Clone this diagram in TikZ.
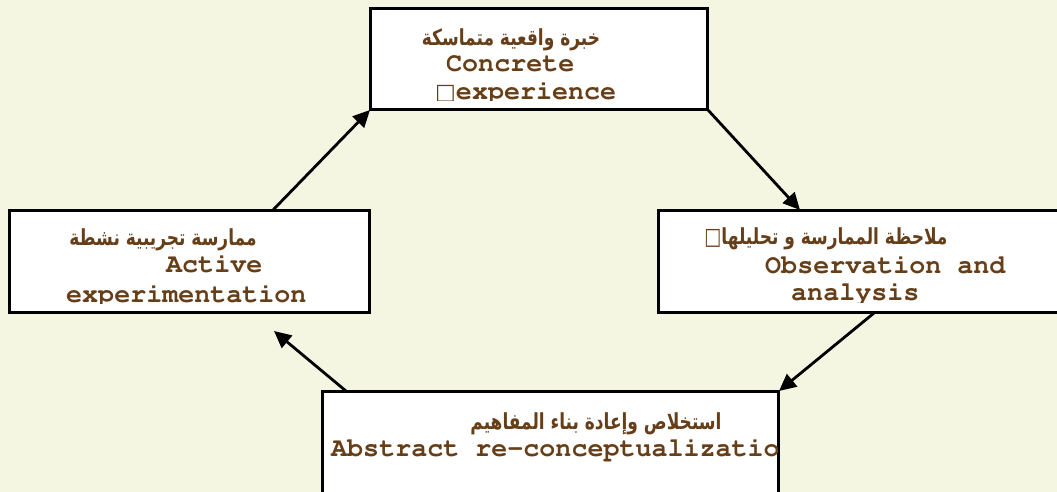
\documentclass[tikz,border=0pt]{standalone}
\usepackage[T1]{fontenc}
\usepackage{fontspec}
\newfontfamily\arabicfont[Script=Arabic]{DejaVu Sans}
\newfontfamily\symfont{DejaVu Sans}
\TeXXeTstate=1
\usetikzlibrary{arrows.meta}
\definecolor{paper}{RGB}{245,246,225}
\definecolor{ink}{RGB}{102,63,25}
% bold Courier for the English captions
\newcommand{\courierbold}{\fontencoding{T1}\fontfamily{pcr}\fontseries{b}\fontshape{n}\fontsize{26.7}{30}\selectfont}
% tall Arabic headings
\newcommand{\arline}[1]{\scalebox{1}[1.3]{\beginR #1\endR}}

\begin{document}
\begin{tikzpicture}[x=1pt,y=-1pt,
  box/.style={draw=black, line width=2pt, fill=white, rectangle,
    anchor=north west, inner sep=0pt},
  en/.style={text=ink, inner sep=0pt, anchor=base west, font=\courierbold},
  ar/.style={text=ink, inner sep=0pt, anchor=center,
    font=\arabicfont\bfseries\fontsize{17}{20}\selectfont},
  flow/.style={draw=black, line width=2.8pt,
    -{Triangle[length=17pt,width=16pt]}}]

% canvas
\useasboundingbox (0,0) rectangle (1057,492);
\clip (0,0) rectangle (1057,492);
\fill[paper] (0,0) rectangle (1057,492);

% the four stages of the cycle
\node[box, minimum width=336pt, minimum height=100pt] (top) at (370,8) {};
\node[box, minimum width=359pt, minimum height=101pt] (left) at (9,210) {};
\node[box, minimum width=430pt, minimum height=101pt] (right) at (658,210) {};
\node[box, minimum width=455pt, minimum height=115pt] (bottom) at (322,391) {};

% texts, cut off by the inner area of each frame
\begin{scope}
  \clip ([yshift=-1pt]top.north west) rectangle ([yshift=9pt]top.south east);
  \node[ar] (topar) at (511,40) {\arline{خبرة واقعية متماسكة}};
  \node[en] (topen1) at (446,72) {Concrete};
  \node[en] (topen2) at (435,100) {{\symfont\mdseries\fontsize{22}{22}\selectfont □}experience};
\end{scope}

\begin{scope}
  \clip ([yshift=-1pt]left.north west) rectangle ([yshift=10pt]left.south east);
  \node[ar] (leftar) at (163,240) {\arline{ممارسة تجريبية نشطة}};
  \node[en] (leften1) at (166,272) {Active};
  \node[en] (leften2) at (66,302) {experimentation};
\end{scope}

\begin{scope}
  \clip ([yshift=-1pt]right.north west) rectangle ([yshift=11pt]right.south east);
  \node[ar] (rightar) at (826,239) {\arline{ملاحظة الممارسة و تحليلها{\symfont\mdseries\fontsize{18}{18}\selectfont □}}};
  \node[en] (righten1) at (765,273) {Observation and};
  \node[en] (righten2) at (791,300) {analysis};
\end{scope}

\begin{scope}
  \clip (bottom.north west) rectangle (bottom.south east);
  \node[ar] (bottomar) at (596,424) {\arline{استخلاص وإعادة بناء المفاهيم}};
  \node[en] (bottomen) at (331,456) {Abstract re-conceptualization};
\end{scope}

% frames drawn again over the clipped texts
\foreach \n in {top,left,right,bottom}
  \draw[black, line width=2pt] (\n.north west) rectangle (\n.south east);

% cycle arrows
\coordinate (loopend) at (274,331);
\draw[flow] ([xshift=264pt]left.north west) -- (top.south west);
\draw[flow] (top.south east) -- ([xshift=142pt]right.north west);
\draw[flow] ([xshift=216pt]right.south west) -- (bottom.north east);
\draw[flow] ([xshift=24pt]bottom.north west) -- (loopend);
\end{tikzpicture}
\end{document}
